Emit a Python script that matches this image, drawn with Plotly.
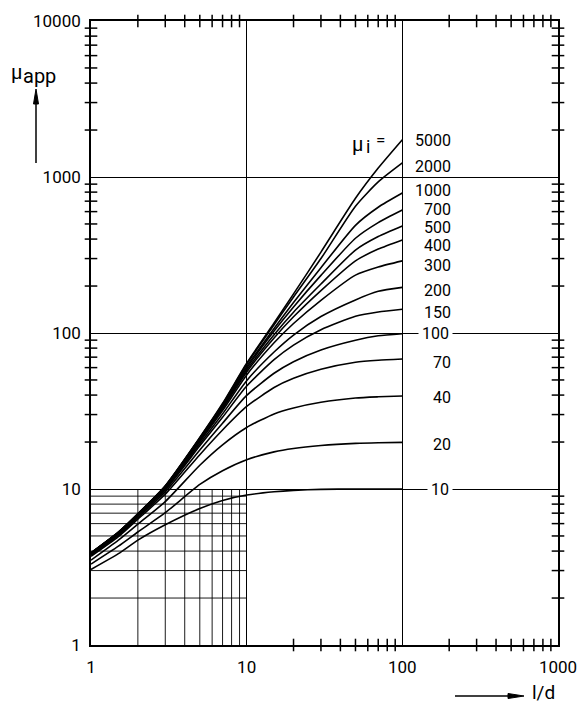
import math
import plotly.graph_objects as go

# ---------------- data ----------------
x_ld = [1, 1.5, 2, 3, 5, 7, 10, 15, 20, 30, 50, 70, 100]

mu_labels = ["5000", "2000", "1000", "700", "500", "400", "300", "200", "150", "100", "70", "40", "20", "10"]

mu_5000 = [3.9, 5.3, 6.94, 10.5, 21.4, 35.3, 64, 116, 178, 330, 730, 1140, 1732]
mu_2000 = [3.89, 5.29, 6.93, 10.45, 21.3, 35.0, 63, 113, 170, 300, 650, 930, 1230]
mu_1000 = [3.89, 5.28, 6.9, 10.4, 21.1, 34.3, 61, 107, 157, 262, 490, 640, 789]
mu_700 = [3.88, 5.27, 6.89, 10.36, 20.9, 33.8, 59.5, 103, 147, 234, 405, 510, 614]
mu_500 = [3.87, 5.25, 6.86, 10.3, 20.65, 33.2, 57.8, 97.5, 136, 206, 340, 415, 485]
mu_400 = [3.86, 5.24, 6.84, 10.25, 20.45, 32.7, 56.3, 93, 127, 187, 290, 345, 395]
mu_300 = [3.85, 5.22, 6.8, 10.18, 20.1, 31.8, 53.8, 86.5, 115, 162, 235, 265, 290]
mu_200 = [3.83, 5.17, 6.74, 10.02, 19.5, 30.3, 49.5, 75.5, 97, 127.5, 163, 185, 196]
mu_150 = [3.8, 5.13, 6.67, 9.85, 18.9, 28.8, 45.7, 67.5, 83.7, 105, 128, 136.5, 142]
mu_100 = [3.76, 5.04, 6.54, 9.59, 17.8, 26.4, 39.8, 55.2, 65.5, 77.9, 89.9, 96, 99]
mu_70 = [3.7, 4.95, 6.4, 9.25, 16.6, 23.9, 33.8, 44.7, 51.2, 58.5, 64.9, 66.9, 68.2]
mu_40 = [3.5, 4.7, 5.95, 8.3, 14.2, 19.2, 24.8, 30.3, 33.1, 36.0, 38.3, 39.0, 39.5]
mu_20 = [3.3, 4.3, 5.3, 7.05, 10.7, 13.1, 15.4, 17.3, 18.2, 19.0, 19.6, 19.8, 19.9]
mu_10 = [3.05, 3.85, 4.7, 5.9, 7.5, 8.45, 9.15, 9.6, 9.8, 9.95, 10, 10, 10]

series = [mu_5000, mu_2000, mu_1000, mu_700, mu_500, mu_400, mu_300,
          mu_200, mu_150, mu_100, mu_70, mu_40, mu_20, mu_10]

x_ticks = [1, 10, 100, 1000]
x_ticktext = ["1", "10", "100", "1000"]
y_ticks = [1, 10, 100, 1000, 10000]
y_ticktext = ["1", "10", "100", "1000", "10000"]

minor_steps = [2, 3, 4, 5, 6, 7, 8, 9]

FONT = "Roboto"

# plot area in pixels (for decorations placed in paper coordinates)
L, R, T, B = 91, 558, 21, 645
W, H = R - L, B - T


def px(xp):
    return (xp - L) / W


def py(yp):
    return (B - yp) / H


fig = go.Figure()

# fine grid in the lower-left decade box
gx, gy = [], []
for m in minor_steps:
    gx += [1, 10, None]
    gy += [m, m, None]
for m in minor_steps:
    gx += [m, m, None]
    gy += [1, 10, None]
fig.add_trace(go.Scatter(x=gx, y=gy, mode="lines",
                         line=dict(color="black", width=0.9),
                         hoverinfo="skip"))

# curves
for vals in series:
    fig.add_trace(go.Scatter(x=x_ld, y=vals, mode="lines",
                             line=dict(color="black", width=1.6, shape="spline", smoothing=0.6)))


# crossing minor ticks on the frame
def decade_minors(decades):
    return [m * 10 ** k for k in decades for m in minor_steps]


top_t = decade_minors([0, 1, 2])
bot_t = decade_minors([1, 2])
left_t = decade_minors([1, 2, 3])
right_t = decade_minors([0, 1, 2, 3])

tick_style = dict(color="black", size=9, line=dict(color="black", width=1.5))
fig.add_trace(go.Scatter(x=top_t, y=[10000] * len(top_t), mode="markers",
                         marker=dict(symbol="line-ns", **tick_style), cliponaxis=False))
fig.add_trace(go.Scatter(x=bot_t, y=[1] * len(bot_t), mode="markers",
                         marker=dict(symbol="line-ns", **tick_style), cliponaxis=False))
fig.add_trace(go.Scatter(x=[1] * len(left_t), y=left_t, mode="markers",
                         marker=dict(symbol="line-ew", **tick_style), cliponaxis=False))
fig.add_trace(go.Scatter(x=[1000] * len(right_t), y=right_t, mode="markers",
                         marker=dict(symbol="line-ew", **tick_style), cliponaxis=False))

# small vertical nudges so the crowded labels stack as in the original
label_nudge = {"5000": -1, "2000": -4, "1000": 3, "700": 1, "500": -1, "400": -6,
               "300": -5, "200": -3, "150": -3, "100": 0, "70": -4, "40": -2, "20": -2, "10": 0}

annotations = []
for lab, vals in zip(mu_labels, series):
    a = dict(x=math.log10(x_ld[-1]), y=math.log10(vals[-1]), xref="x", yref="y",
             text=lab, showarrow=False, xanchor="right", yanchor="middle",
             xshift=51, yshift=label_nudge[lab], font=dict(family=FONT, size=16, color="black"))
    if lab in ("100", "10"):
        a.update(bgcolor="white", borderpad=3)
    annotations.append(a)


def txt(xp, yp, s, size):
    return dict(x=px(xp), y=py(yp), xref="paper", yref="paper", text=s,
                showarrow=False, xanchor="center", yanchor="middle",
                font=dict(family=FONT, size=size, color="black"))


annotations += [
    # mu_i =
    txt(357, 144, "μ", 20),
    txt(368, 147, "i", 18),
    txt(380, 140, "=", 17),
    # axis titles
    txt(16, 72, "μ", 20),
    txt(39, 76, "app", 20),
    txt(543, 692, "l/d", 19),
]

shapes = [
    # y arrow
    dict(type="line", xref="paper", yref="paper", x0=px(36), x1=px(36), y0=py(163), y1=py(100),
         line=dict(color="black", width=1.5)),
    dict(type="path", xref="paper", yref="paper",
         path=f"M {px(33.5)} {py(104)} L {px(36)} {py(89)} L {px(38.5)} {py(104)} Z",
         fillcolor="black", line=dict(color="black", width=1)),
    # x arrow
    dict(type="line", xref="paper", yref="paper", x0=px(455), x1=px(512), y0=py(696), y1=py(696),
         line=dict(color="black", width=1.5)),
    dict(type="path", xref="paper", yref="paper",
         path=f"M {px(508)} {py(693.5)} L {px(524)} {py(696)} L {px(508)} {py(698.5)} Z",
         fillcolor="black", line=dict(color="black", width=1)),
]

axis_common = dict(type="log", showgrid=True, gridcolor="black", gridwidth=1.3,
                   showline=True, mirror=True, linecolor="black", linewidth=1.6,
                   ticks="", zeroline=False, automargin=False, ticklabeloverflow="allow",
                   tickfont=dict(family=FONT, size=17, color="black"))

fig.update_layout(
    width=577, height=704,
    margin=dict(l=L, r=577 - R, t=T, b=704 - B),
    paper_bgcolor="white", plot_bgcolor="white",
    showlegend=False,
    xaxis=dict(range=[0, 3], tickvals=x_ticks, ticktext=x_ticktext,
               ticklabelstandoff=6, **axis_common),
    yaxis=dict(range=[0, 4], tickvals=y_ticks, ticktext=y_ticktext,
               ticklabelstandoff=5, **axis_common),
    annotations=annotations,
    shapes=shapes,
)

fig.write_html("out.html", config={"displayModeBar": False},
               post_script="document.body.style.margin='0px';document.body.style.overflow='hidden';")
